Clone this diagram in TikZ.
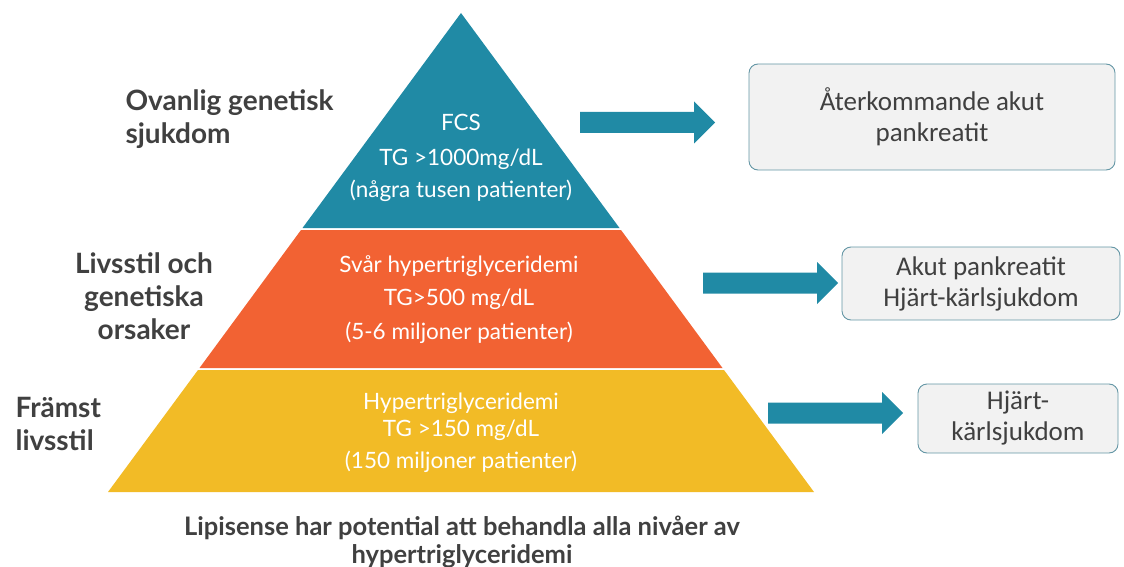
\documentclass[tikz,border=0pt]{standalone}
\usepackage{fontspec}
\setmainfont{Lato}
\newfontfamily\boxfont{Carlito}
\usetikzlibrary{positioning}

\definecolor{fcsteal}{RGB}{32,138,165}
\definecolor{svarorange}{RGB}{242,98,51}
\definecolor{hyperyellow}{RGB}{242,187,38}
\definecolor{labelgray}{RGB}{64,64,64}
\definecolor{boxfill}{RGB}{242,242,242}
\definecolor{boxline}{RGB}{100,150,165}

\tikzset{
  tiertext/.style={text=white, font=\fontsize{22.5}{27}\selectfont, anchor=base},
  sidelabel/.style={text=labelgray, font=\bfseries\fontsize{28}{33}\selectfont, anchor=base},
  outcome/.style={draw=boxline, fill=boxfill, rounded corners=9pt, line width=0.9pt,
    text=labelgray, font=\boxfont\fontsize{27}{31}\selectfont, align=center, inner sep=0pt},
  blockarrow/.pic={\fill[fcsteal] (0,-10.5) -- (114,-10.5) -- (114,-21) -- (135,0)
    -- (114,21) -- (114,10.5) -- (0,10.5) -- cycle;}
}

\begin{document}
\begin{tikzpicture}[x=1pt,y=-1pt]
    \useasboundingbox (0,0) rectangle (1124,567);
    % pyramid tiers
    \fill[fcsteal] (461,13) -- (619.5,228) -- (302.5,228) -- cycle;
    \fill[svarorange] (621,230) -- (722.5,368) -- (199.5,368) -- (301,230) -- cycle;
    \fill[hyperyellow] (724,370) -- (814,492) -- (108,492) -- (198,370) -- cycle;
    % tier texts
    \node[tiertext] (fcs) at (461,131) {FCS};
    \node[tiertext] (fcstg) at (461,165) {TG >1000mg/dL};
    \node[tiertext] (fcspat) at (461,197) {(några tusen patienter)};
    \node[tiertext] (svar) at (459,272) {Svår hypertriglyceridemi};
    \node[tiertext] (svartg) at (459,305) {TG>500 mg/dL};
    \node[tiertext] (svarpat) at (459,339) {(5-6 miljoner patienter)};
    \node[tiertext] (hyper) at (461,409) {Hypertriglyceridemi};
    \node[tiertext] (hypertg) at (461,436) {TG >150 mg/dL};
    \node[tiertext] (hyperpat) at (461,468) {(150 miljoner patienter)};
    % side labels
    \node[sidelabel, anchor=base west] (ovanlig) at (122,111) {Ovanlig genetisk};
    \node[sidelabel, anchor=base west] (sjukdom) at (122,143) {sjukdom};
    \node[sidelabel] (livsstil) at (144,273) {Livsstil och};
    \node[sidelabel] (genetiska) at (144,306) {genetiska};
    \node[sidelabel] (orsaker) at (144,339) {orsaker};
    \node[sidelabel, anchor=base west] (framst) at (12,417) {Främst};
    \node[sidelabel, anchor=base west] (livsstil2) at (12,450) {livsstil};
    % arrows
    \pic (pilfcs) at (580,122.5) {blockarrow};
    \pic (pilsvar) at (703,283) {blockarrow};
    \pic (pilhyper) at (768,413) {blockarrow};
    % outcome boxes
    \node[outcome, minimum width=366pt, minimum height=106pt] (aterkommande) at (932,117)
        {Återkommande akut\\pankreatit};
    \node[outcome, minimum width=278pt, minimum height=73pt] (akut) at (981,283.5)
        {Akut pankreatit\\Hjärt-kärlsjukdom};
    \node[outcome, minimum width=200pt, minimum height=69pt] (hjart) at (1018,418.5)
        {Hjärt-\\kärlsjukdom};
    % bottom statement
    \node[sidelabel, font=\bfseries\fontsize{25.5}{28}\selectfont] (lipisense) at (462,535)
        {Lipisense har potential att behandla alla nivåer av};
    \node[sidelabel, font=\bfseries\fontsize{25.5}{28}\selectfont] (hypertg2) at (462,563)
        {hypertriglyceridemi};
\end{tikzpicture}
\end{document}
